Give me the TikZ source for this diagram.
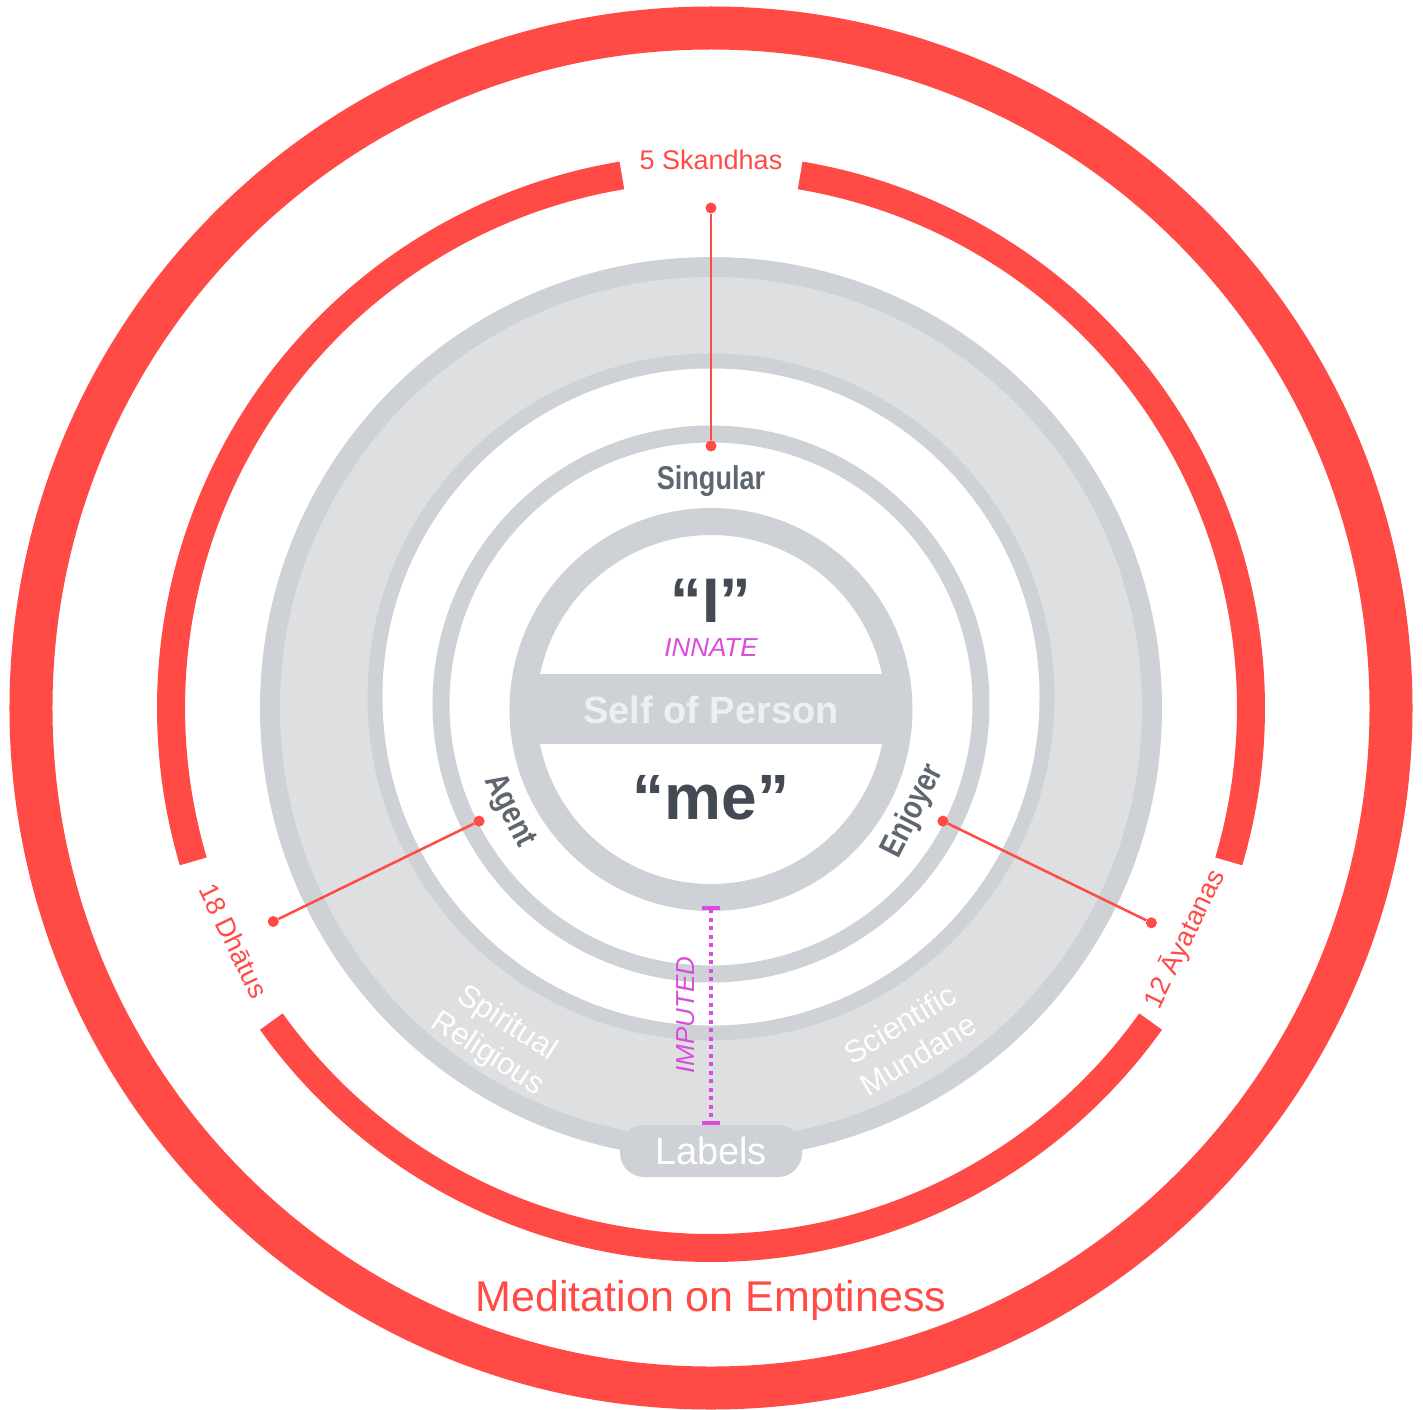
\documentclass[tikz,border=0pt]{standalone}
\usepackage{fontspec}
\setmainfont{Liberation Sans}
\newfontfamily\narrowfont[FakeStretch=0.82]{Liberation Sans}
\usetikzlibrary{arrows.meta}
\definecolor{redring}{HTML}{FF4A46}
\definecolor{ringgray}{HTML}{CED1D5}
\definecolor{bandgray}{HTML}{DEDFE1}
\definecolor{darktext}{HTML}{434A54}
\definecolor{midtext}{HTML}{5E6670}
\definecolor{imputed}{HTML}{DA4CDC}
\definecolor{barwhite}{HTML}{EEEFF1}
\tikzset{
  dot/.style={circle,fill=redring,inner sep=0pt,minimum size=11pt},
  link/.style={redring,line width=2.5pt},
  redlabel/.style={text=redring,font=\fontsize{27}{30}\selectfont},
  aspect/.style={text=midtext,font=\narrowfont\bfseries\fontsize{33}{36}\selectfont},
  tradition/.style={text=white,align=center,font=\fontsize{31}{36}\selectfont}
}
\begin{document}
\begin{tikzpicture}[x=1pt,y=1pt]
                \useasboundingbox (-711,-701) rectangle (712,708);
                \coordinate (O) at (0,0);
                \draw[redring,line width=43pt] (O) circle[radius=680pt];
                \draw[redring,line width=28pt] (99.5:540pt) arc[start angle=99.5,end angle=196.5,radius=540pt];
                \draw[redring,line width=28pt] (215.5:540pt) arc[start angle=215.5,end angle=324.5,radius=540pt];
                \draw[redring,line width=28pt] (343.5:540pt) arc[start angle=343.5,end angle=440.5,radius=540pt];

                \fill[ringgray] (O) circle[radius=451pt];
                \fill[bandgray] (O) circle[radius=431pt];
                \draw[ringgray,line width=15pt] (0,11) circle[radius=336pt];
                \fill[white] (0,11) circle[radius=328.5pt];
                \draw[ringgray,line width=17pt] (0,4) circle[radius=270pt];
                \fill[white] (0,-1.5) circle[radius=188pt];
                \begin{scope}
                \clip (0,-1.5) circle[radius=188pt];
                \fill[ringgray] (-200,-36) rectangle (200,34);
                \end{scope}
                \draw[ringgray,line width=27pt] (0,-1.5) circle[radius=188pt];

                \node[text=darktext,font=\bfseries\fontsize{63}{66}\selectfont] (I) at (0,107) {“I”};
                \node[text=imputed,font=\itshape\fontsize{26}{30}\selectfont] (N) at (0,60) {INNATE};
                \node[text=barwhite,font=\bfseries\fontsize{38}{42}\selectfont] (P) at (0,-2) {Self of Person};
                \node[text=darktext,font=\bfseries\fontsize{64}{68}\selectfont] (me) at (0,-90) {“me”};

                \node[aspect] (sg) at (0,227) {Singular};
                \node[aspect,rotate=-63] (ag) at (207:227pt) {Agent};
                \node[aspect,rotate=63] (en) at (333:227pt) {Enjoyer};

                \node[tradition,rotate=-33] (sr) at (-214,-331) {Spiritual\\Religious};
                \node[tradition,rotate=31] (sm) at (198,-331) {Scientific\\Mundane};

                \node[fill=ringgray,rounded corners=24pt,minimum width=182pt,minimum height=52pt,
                      text=white,font=\fontsize{38}{42}\selectfont] (L) at (0,-443) {Labels};
                \coordinate (T) at (0,-198);
                \draw[imputed,line width=4pt,dash pattern=on 4pt off 4.5pt,
                      {Bar[width=18pt]}-{Bar[width=18pt]}] (T) -- (L.north);
                \node[rotate=90,text=imputed,font=\itshape\fontsize{26}{30}\selectfont] (im) at (-25,-307) {IMPUTED};

                \node[dot] (s1) at (90:262pt) {};
                \node[dot] (s2) at (90:500pt) {};
                \node[dot] (a1) at (206:258pt) {};
                \node[dot] (a2) at (206:487pt) {};
                \node[dot] (e1) at (334:258pt) {};
                \node[dot] (e2) at (334:490pt) {};
                \draw[link] (s1) -- (s2);
                \draw[link] (a1) -- (a2);
                \draw[link] (e1) -- (e2);

                \node[redlabel] (sk) at (0,548) {5 Skandhas};
                \node[redlabel,rotate=-64] (dh) at (206:531pt) {18 Dhātus};
                \node[redlabel,rotate=64] (ay) at (334:527pt) {12 Āyatanas};
                \node[text=redring,font=\fontsize{43}{46}\selectfont] (md) at (0,-592) {Meditation on Emptiness};
            \end{tikzpicture}
\end{document}
